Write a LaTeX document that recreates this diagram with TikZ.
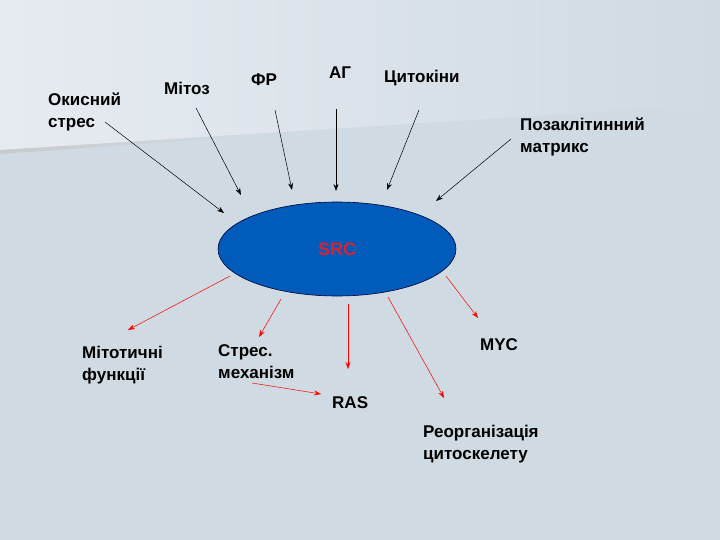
\documentclass[tikz,border=0pt]{standalone}
\usepackage{fontspec}
\setmainfont{Liberation Sans}
\usepackage{xcolor}
\usepackage{tikz}
\usetikzlibrary{arrows.meta,positioning,calc,shapes.geometric}

\definecolor{bgtop}{HTML}{E6EBF1}
\definecolor{bgbot}{HTML}{D0DAE2}
\definecolor{srcblue}{HTML}{005BBB}
\definecolor{srcred}{HTML}{E0202A}

\tikzset{
    lbl/.style={font=\bfseries\fontsize{17}{22}\selectfont, align=left, inner sep=0pt, anchor=north west},
    inarr/.style={-{Stealth[length=7pt,width=5pt]}, black, line width=0.5pt},
    outarr/.style={-{Stealth[length=7pt,width=5pt]}, red, line width=0.5pt}
}

\begin{document}
\begin{tikzpicture}[x=1pt,y=-1pt]
    % Background
    \useasboundingbox (0,0) rectangle (720,540);
    \fill[bgbot] (0,0) rectangle (720,540);
    \shade[left color=bgtop, right color=bgbot] (0,0) -- (720,0) -- (720,104) -- (0,150) -- cycle;
    \shade[left color=black!22, right color=bgbot, opacity=0.8] (0,150) -- (240,135) -- (240,137) -- (0,154) -- cycle;

    % SRC
    \node (src) [ellipse, draw=black!80!blue, fill=srcblue, line width=0.6pt,
        minimum width=238, minimum height=94, inner sep=0pt] at (337,249) {};
    \node (srct) [font=\bfseries\fontsize{18}{20}\selectfont, text=srcred] at (src.center) {SRC};

    % Inputs
    \node (ox)   [lbl] at (48,93)   {Окисний\\стрес};
    \node (mit)  [lbl] at (164,82)  {Мітоз};
    \node (fr)   [lbl] at (251,74)  {ФР};
    \node (ag)   [lbl] at (329,67)  {АГ};
    \node (cyt)  [lbl] at (384,70)  {Цитокіни};
    \node (ecm)  [lbl] at (520,118) {Позаклітинний\\матрикс};

    \coordinate (ox-s)  at (105,122); \coordinate (ox-e)  at (224,213);
    \coordinate (mit-s) at (196,108); \coordinate (mit-e) at (241,195);
    \coordinate (fr-s)  at (275,110); \coordinate (fr-e)  at (292,190);
    \coordinate (ag-s)  at (336,109); \coordinate (ag-e)  at (336,191);
    \coordinate (cyt-s) at (419,110); \coordinate (cyt-e) at (387,190);
    \coordinate (ecm-s) at (511,139); \coordinate (ecm-e) at (436,201);
    \foreach \n in {ox,mit,fr,ag,cyt,ecm}
        \draw [inarr] (\n-s) -- (\n-e);

    % Outputs
    \node (mitf) [lbl] at (82,346)  {Мітотичні\\функції};
    \node (str)  [lbl] at (218,344) {Стрес.\\механізм};
    \node (ras)  [lbl] at (332,396) {RAS};
    \node (myc)  [lbl] at (480,338) {MYC};
    \node (reo)  [lbl] at (423,425) {Реорганізація\\цитоскелету};

    \coordinate (mitf-s) at (230,276); \coordinate (mitf-e) at (128,330);
    \coordinate (str-s)  at (281,299); \coordinate (str-e)  at (259,337);
    \coordinate (ras-s)  at (348,304); \coordinate (ras-e)  at (348,369);
    \coordinate (reo-s)  at (388,297); \coordinate (reo-e)  at (444,398);
    \coordinate (myc-s)  at (446,276); \coordinate (myc-e)  at (478,318);
    \coordinate (sr-s)   at (252,383); \coordinate (sr-e)   at (321,394);
    \foreach \n in {mitf,str,ras,reo,myc,sr}
        \draw [outarr] (\n-s) -- (\n-e);
\end{tikzpicture}
\end{document}
